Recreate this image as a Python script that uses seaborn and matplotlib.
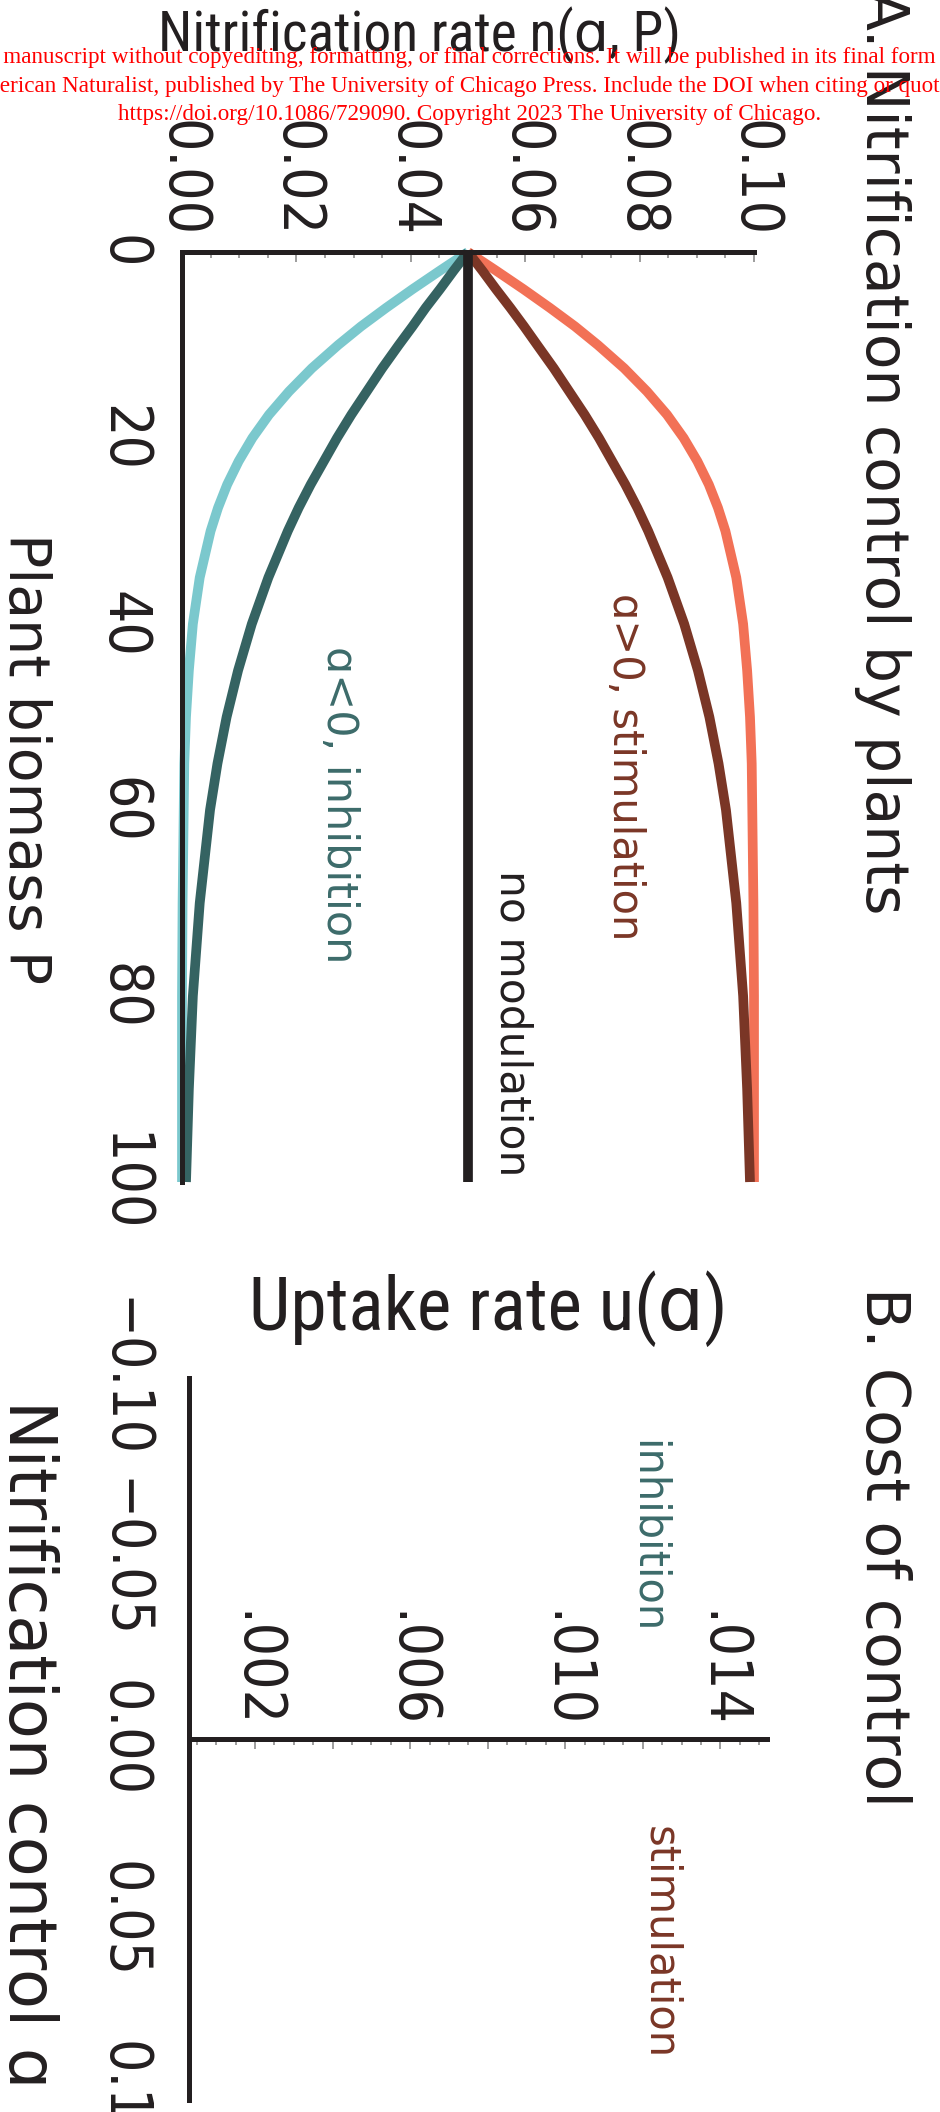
import numpy as np
import pandas as pd
import matplotlib
matplotlib.use("Agg")
import matplotlib.pyplot as plt
import matplotlib.ticker as mticker
import seaborn as sns

# Panel A: nitrification rate n(a, P) against plant biomass P
biomass = [0, 2, 4, 6, 8, 10, 12.5, 15, 17.5, 20, 22.5, 25, 27.5, 30, 35, 40, 45, 50,
           55, 60, 70, 80, 90, 100]
n_stim_strong = [0.05, 0.0549, 0.0597, 0.0643, 0.0687, 0.0727, 0.0773, 0.0813, 0.0848,
                 0.0877, 0.0901, 0.0921, 0.0937, 0.0950, 0.0969, 0.0981, 0.0988, 0.0993,
                 0.0996, 0.0997, 0.0999, 0.1, 0.1, 0.1]
n_stim_weak = [0.05, 0.0525, 0.0549, 0.0574, 0.0598, 0.0621, 0.0650, 0.0677, 0.0704,
               0.0729, 0.0752, 0.0775, 0.0796, 0.0815, 0.0849, 0.0878, 0.0902, 0.0922,
               0.0938, 0.0951, 0.0969, 0.0981, 0.0988, 0.0993]
n_inhib_weak = [0.05, 0.0475, 0.0451, 0.0426, 0.0403, 0.0379, 0.0350, 0.0323, 0.0296,
                0.0271, 0.0248, 0.0225, 0.0204, 0.0185, 0.0151, 0.0122, 0.0098, 0.0078,
                0.0062, 0.0049, 0.0031, 0.0019, 0.0012, 0.0007]
n_inhib_strong = [0.05, 0.0451, 0.0403, 0.0357, 0.0313, 0.0273, 0.0227, 0.0187, 0.0152,
                  0.0123, 0.0099, 0.0079, 0.0063, 0.0050, 0.0031, 0.0019, 0.0012, 0.0007,
                  0.0004, 0.0003, 0.0001, 0.0, 0.0, 0.0]
n_none = [0.05] * len(biomass)

n_ticks = [0.00, 0.02, 0.04, 0.06, 0.08, 0.10]
n_labels = ["0.00", "0.02", "0.04", "0.06", "0.08", "0.10"]
p_ticks = [0, 20, 40, 60, 80, 100]
p_labels = ["0", "20", "40", "60", "80", "100"]

# Panel B: cost of control (axes only)
u_ticks = [0.002, 0.004, 0.006, 0.008, 0.010, 0.012, 0.014]
u_labels = [".002", "", ".006", "", ".010", "", ".014"]
a_ticks = [-0.10, -0.05, 0.0, 0.05, 0.10]
a_labels = ["\u22120.10", "\u22120.05", "0.00", "0.05", "0.10"]

c_orange = "#F27156"
c_brown = "#7A3626"
c_light = "#7BC8CD"
c_teal = "#356362"
c_teal_txt = "#3C6B6A"
c_black = "#231F20"
c_tick = "#8C8C8C"

sns.set_theme(style="white")
plt.rcParams["font.family"] = ["DejaVu Sans"]
cond = ["Roboto Condensed", "DejaVu Sans"]

W, H = 940, 2112
fig = plt.figure(figsize=(W / 100, H / 100), dpi=100)


def fx(x):
    return x / W


def fy(y):
    return 1 - y / H


def rtext(x, y, s, size, color=c_black, **kw):
    fig.text(fx(x), fy(y), s, rotation=270, rotation_mode="anchor",
             ha="left", va="baseline", fontsize=size, color=color, **kw)


def style_ticks(ax, xpad, ypad):
    ax.tick_params(axis="both", which="both", direction="in", color=c_tick, width=1.2,
                   labelcolor=c_black)
    ax.tick_params(which="major", length=7)
    ax.tick_params(which="minor", length=4)
    ax.tick_params(axis="x", pad=xpad)
    ax.tick_params(axis="y", pad=ypad)
    plt.setp(ax.get_xticklabels(), rotation=270, ha="center", va="bottom",
             fontsize=42, fontstretch="condensed")
    plt.setp(ax.get_yticklabels(), rotation=270, ha="right", va="center",
             fontsize=42, fontstretch="condensed")


# ---- panel A ----
axA = fig.add_axes([fx(182), fy(1182), (754 - 182) / W, (1182 - 252) / H])
df = pd.DataFrame({"P": biomass, "stim_strong": n_stim_strong, "stim_weak": n_stim_weak,
                   "inhib_weak": n_inhib_weak, "inhib_strong": n_inhib_strong, "none": n_none})
for col, color in [("inhib_strong", c_light), ("inhib_weak", c_teal),
                   ("stim_strong", c_orange), ("stim_weak", c_brown), ("none", c_black)]:
    sns.lineplot(data=df, x=col, y="P", orient="y", estimator=None, sort=True,
                 color=color, linewidth=7, ax=axA, clip_on=False,
                 solid_capstyle="butt", solid_joinstyle="round")
axA.set_xlim(0, 0.10)
axA.set_ylim(100, 0)
axA.set_xlabel("")
axA.set_ylabel("")

for name, sp in axA.spines.items():
    sp.set_visible(name in ("top", "left"))
    sp.set_linewidth(3.6)
    sp.set_color(c_black)
axA.xaxis.tick_top()
axA.set_xticks(n_ticks)
axA.set_xticklabels(n_labels)
axA.xaxis.set_minor_locator(mticker.MultipleLocator(0.005))
axA.set_yticks(p_ticks)
axA.set_yticklabels(p_labels)
axA.yaxis.set_minor_locator(mticker.MultipleLocator(5))
style_ticks(axA, 11, 22)

# ---- panel B ----
axB = fig.add_axes([fx(189), fy(2100), (767 - 189) / W, (2100 - 1378) / H])
axB.set_xlim(0.0003, 0.0152)
axB.set_ylim(0.10, -0.10)
for name, sp in axB.spines.items():
    sp.set_visible(name in ("top", "left"))
    sp.set_linewidth(3.6)
    sp.set_color(c_black)
axB.spines["top"].set_position(("data", 0))
axB.xaxis.tick_top()
axB.set_xticks(u_ticks)
axB.set_xticklabels(u_labels)
axB.xaxis.set_minor_locator(mticker.MultipleLocator(0.0005))
axB.set_yticks(a_ticks)
axB.set_yticklabels(a_labels)
axB.yaxis.set_minor_locator(mticker.MultipleLocator(0.01))
style_ticks(axB, 8, 27)

# ---- titles and labels ----
rtext(866, -10, "A. Nitrification control by plants", 42)
rtext(866, 1287, "B. Cost of control", 43.5)
rtext(9, 533, "Plant biomass P", 41)
rtext(9, 1400, "Nitrification control \u0251", 47)
rtext(613, 593, "\u0251>0, stimulation", 30, c_brown)
rtext(327, 646, "\u0251<0, inhibition", 31, c_teal_txt)
rtext(500, 870, "no modulation", 30.5)
rtext(636, 1440, "inhibition", 30, c_teal_txt)
rtext(648, 1826, "stimulation", 30, c_brown)

fig.text(fx(420), fy(51), "Nitrification rate n(\u0251, P)", ha="center", va="baseline",
         fontsize=40, color=c_black, family=cond)
fig.text(fx(488), fy(1330), "Uptake rate u(\u0251)", ha="center", va="baseline",
         fontsize=53, color=c_black, family=cond)

# watermark
wm = ["This is the author's accepted manuscript without copyediting, formatting, or final corrections. It will be published in its final form in an upcoming issue of The",
      "American Naturalist, published by The University of Chicago Press. Include the DOI when citing or quoting:",
      "https://doi.org/10.1086/729090. Copyright 2023 The University of Chicago."]
for line, yb in zip(wm, [63, 92, 120]):
    fig.text(0.5, fy(yb), line, ha="center", va="baseline", color="red",
             family="Liberation Serif", fontsize=16.65)

fig.savefig("out.png", dpi=100)
